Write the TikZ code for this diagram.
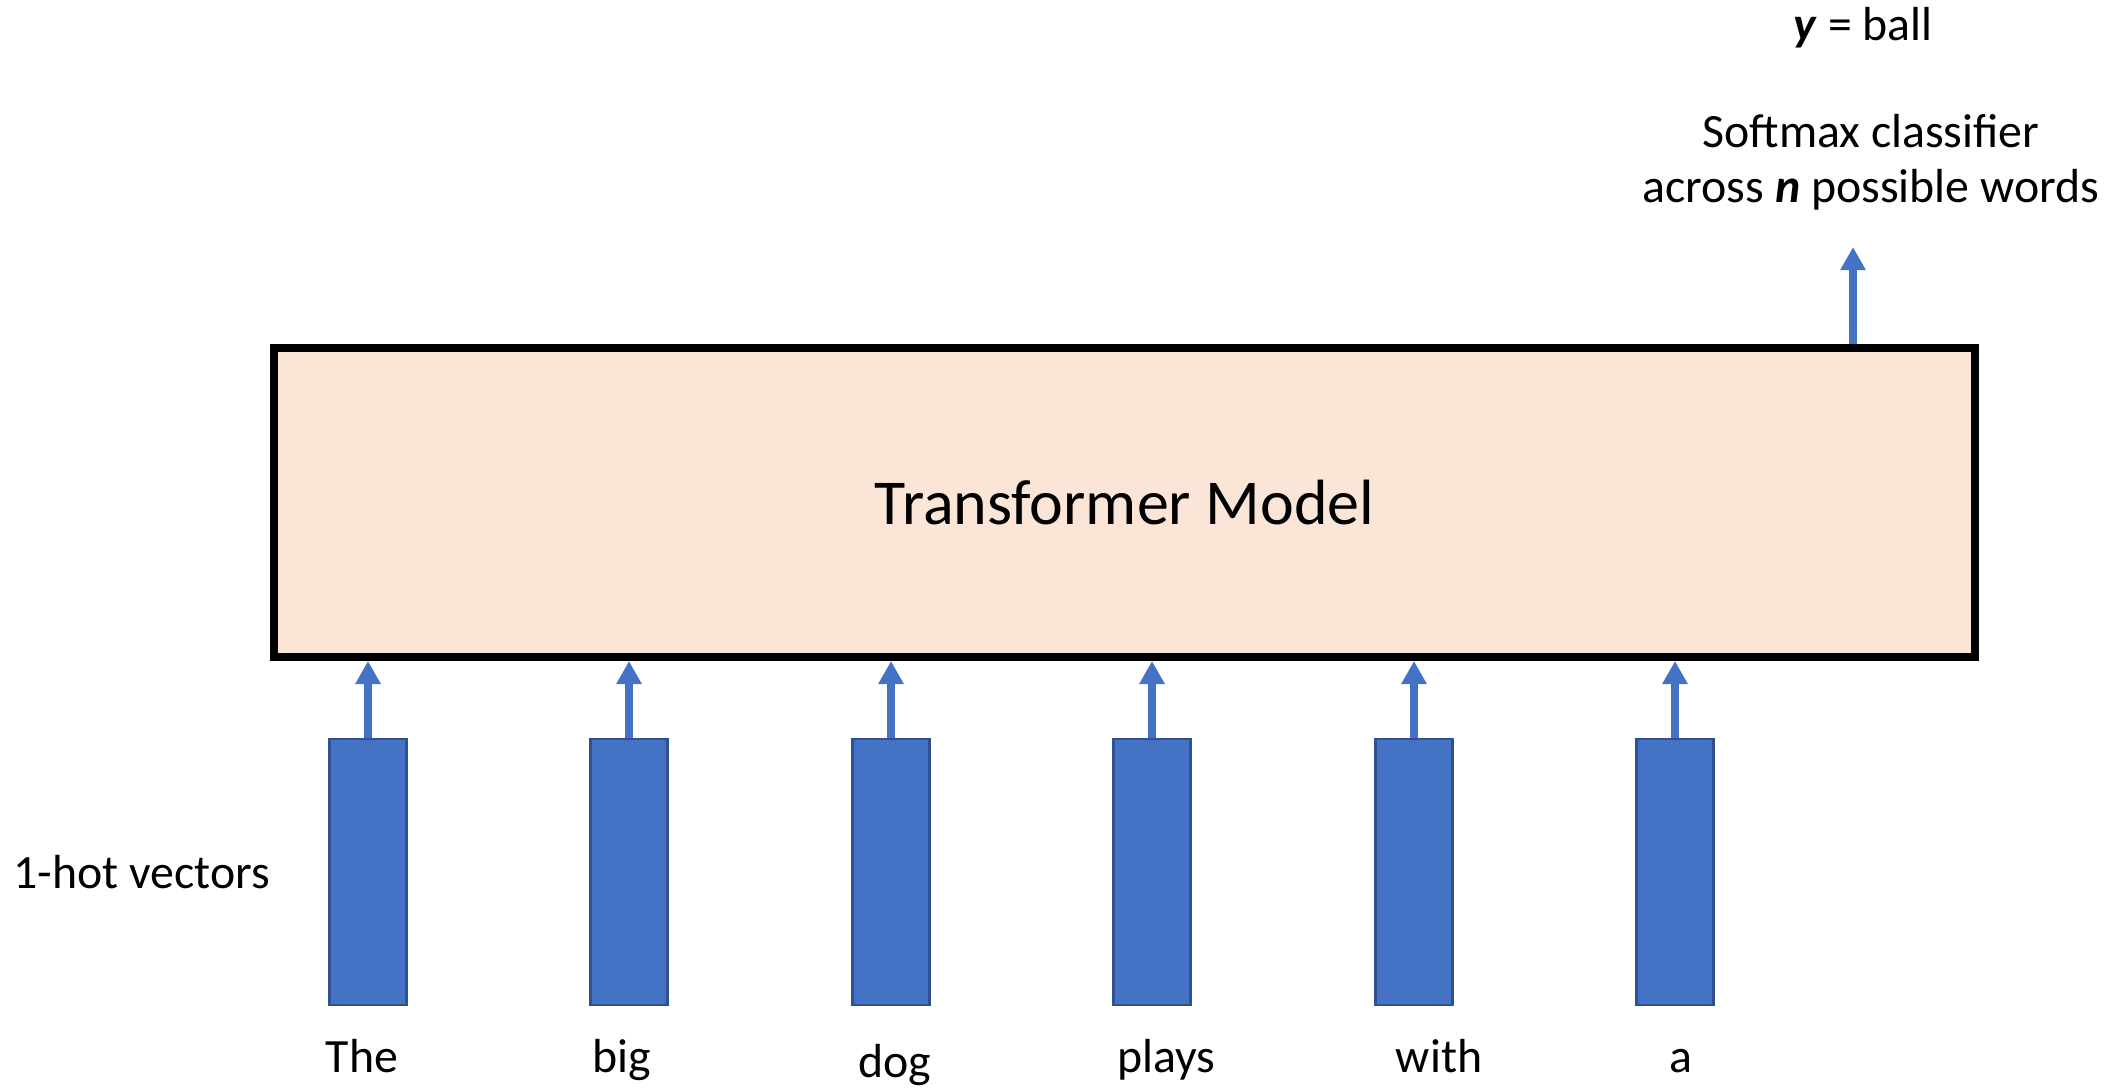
\documentclass[tikz,border=0pt]{standalone}
\usepackage{fontspec}
\setmainfont{Carlito}
\usetikzlibrary{arrows.meta}

\definecolor{boxfill}{HTML}{FBE5D6}
\definecolor{barblue}{HTML}{4472C4}
\definecolor{bardraw}{HTML}{2F528F}

\tikzset{
  model/.style={draw=black,line width=0.08cm,fill=boxfill,inner sep=0pt,
    minimum width=17.01cm,minimum height=3.09cm,font=\fontsize{18.2}{22}\selectfont},
  vecbar/.style={draw=bardraw,line width=0.6pt,fill=barblue,inner sep=0pt,
    minimum width=0.77cm,minimum height=2.66cm},
  word/.style={anchor=base,inner sep=0pt,font=\fontsize{13.6}{15.6}\selectfont},
  flow/.style={draw=barblue,line width=0.08cm,-{Triangle[width=0.24cm,length=0.23cm]}}
}

\begin{document}
\begin{tikzpicture}

        \useasboundingbox (0,0) rectangle (21.13,10.87);

        \node[model] (model) at (11.245,5.845) {Transformer Model};

        \begin{scope}[every node/.style={vecbar}]
          \node (b1) at (3.68,2.15)  {};
          \node (b2) at (6.29,2.15)  {};
          \node (b3) at (8.91,2.15)  {};
          \node (b4) at (11.52,2.15) {};
          \node (b5) at (14.14,2.15) {};
          \node (b6) at (16.75,2.15) {};
        \end{scope}

        \begin{scope}[every node/.style={word}]
          \node (w1) at (3.62,0.15)  {The};
          \node (w2) at (6.22,0.15)  {big};
          \node (w3) at (8.95,0.10)  {dog};
          \node (w4) at (11.66,0.15) {plays};
          \node (w5) at (14.39,0.15) {with};
          \node (w6) at (16.81,0.15) {a};
          \node[anchor=base west] (onehot) at (0.13,1.99) {1-hot vectors};
          % base of a two-line node is the baseline of its last line
          \node[align=center] (softmax) at (18.71,8.85) {Softmax classifier\\across \textbf{\textit{n}} possible words};
          \node (label) at (18.63,10.47) {\textbf{\textit{y}} = ball};
        \end{scope}

        \coordinate (out) at (18.53,8.40);

        \begin{scope}[every edge/.style={flow}]
          \path (b1) edge (b1 |- model.south);
          \path (b2) edge (b2 |- model.south);
          \path (b3) edge (b3 |- model.south);
          \path (b4) edge (b4 |- model.south);
          \path (b5) edge (b5 |- model.south);
          \path (b6) edge (b6 |- model.south);
          \path (model.north -| out) edge (out);
        \end{scope}

      \end{tikzpicture}
\end{document}
